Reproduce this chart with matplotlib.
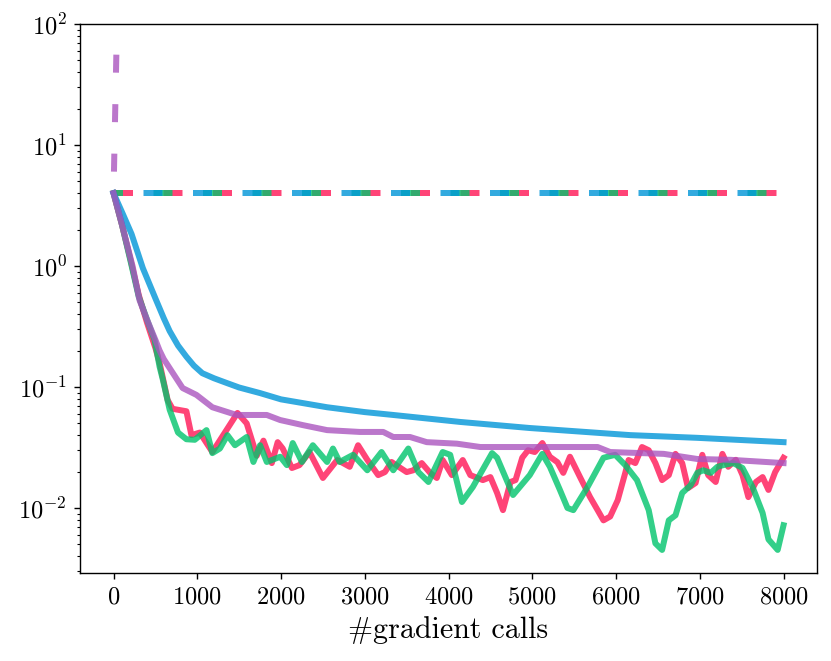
import numpy as np
import matplotlib
matplotlib.use("Agg")
import matplotlib.pyplot as plt

plt.rcParams['font.family'] = 'cmr10'
plt.rcParams['mathtext.fontset'] = 'cm'
plt.rcParams['axes.formatter.use_mathtext'] = True
plt.rcParams['axes.unicode_minus'] = False
plt.rcParams['lines.scale_dashes'] = False

# Solid curves
blue_x = [0, 110, 215, 350, 500, 600, 670, 770, 870, 960, 1060, 1200, 1350, 1500, 1750,
          2000, 2550, 3000, 3340, 4140, 4970, 6170, 6970, 8000]
blue_y = [4.0, 2.7, 1.84, 0.96, 0.54, 0.37, 0.29, 0.22, 0.178, 0.15, 0.13, 0.118, 0.108, 0.099, 0.089,
          0.079, 0.068, 0.062, 0.0587, 0.0514, 0.0458, 0.040, 0.038, 0.035]

purple_x = [0, 100, 227, 311, 400, 500, 550, 600, 700, 825, 990, 1180, 1470, 1830, 1990, 2260,
            2550, 2940, 3220, 3340, 3540, 3740, 4100, 4380, 4970, 5780, 5930, 6570, 6970, 7370, 8000]
purple_y = [4.0, 2.2, 1.0, 0.52, 0.36, 0.245, 0.20, 0.17, 0.133, 0.098, 0.086, 0.068, 0.0587, 0.0587, 0.0533, 0.0484,
            0.044, 0.0425, 0.0425, 0.0386, 0.0386, 0.035, 0.034, 0.0319, 0.0319, 0.0319, 0.029, 0.028, 0.0254, 0.025, 0.0235]

red_x = [0, 100, 200, 300, 400, 500, 550, 646, 705, 870, 930, 1030, 1180, 1480, 1590, 1710, 1790, 1890,
         1960, 2020, 2130, 2220, 2340, 2500, 2670, 2740, 2820, 2920, 3030, 3160, 3240, 3320, 3400, 3500,
         3580, 3680, 3780, 3860, 3930, 4040, 4170, 4260, 4410, 4500, 4580, 4650, 4740, 4800, 4880, 4950,
         5030, 5120, 5210, 5300, 5370, 5450, 5570, 5690, 5780, 5850, 5930, 6020, 6110, 6150, 6230, 6310,
         6390, 6470, 6550, 6630, 6710, 6790, 6860, 6950, 7030, 7100, 7190, 7270, 7340, 7430, 7510, 7580,
         7670, 7750, 7820, 7900, 8000]
red_y = [4.0, 2.2, 1.15, 0.58, 0.34, 0.21, 0.158, 0.078, 0.066, 0.063, 0.040, 0.042, 0.029, 0.061, 0.050, 0.027, 0.036, 0.0235,
         0.035, 0.031, 0.0214, 0.0226, 0.029, 0.0177, 0.0249, 0.0235, 0.0219, 0.033, 0.025, 0.0187, 0.0198, 0.024, 0.022, 0.0198,
         0.0205, 0.0235, 0.0195, 0.0177, 0.0249, 0.0187, 0.0249, 0.0187, 0.017, 0.018, 0.0133, 0.0096, 0.0164, 0.017, 0.026, 0.030,
         0.029, 0.0344, 0.0265, 0.0239, 0.0195, 0.0265, 0.018, 0.0123, 0.0096, 0.0079, 0.0085, 0.0116, 0.0195, 0.0249, 0.0235, 0.0319,
         0.030, 0.0235, 0.017, 0.0187, 0.028, 0.0235, 0.0146, 0.0161, 0.0275, 0.0187, 0.0164, 0.028, 0.0219, 0.025, 0.0187, 0.0123,
         0.0164, 0.018, 0.0141, 0.0198, 0.026]

green_x = [0, 100, 200, 300, 400, 490, 550, 590, 670, 770, 870, 970, 1110, 1180, 1270, 1360, 1450, 1590,
           1670, 1750, 1830, 1990, 2070, 2140, 2250, 2380, 2550, 2620, 2700, 2860, 3030, 3200, 3340, 3520,
           3640, 3760, 3930, 4020, 4160, 4290, 4520, 4580, 4770, 4970, 5120, 5210, 5330, 5420, 5490, 5660,
           5850, 5990, 6110, 6250, 6390, 6470, 6550, 6630, 6710, 6790, 6890, 6970, 7040, 7130, 7210, 7280,
           7400, 7510, 7630, 7750, 7820, 7930, 8000]
green_y = [4.0, 2.2, 1.12, 0.56, 0.36, 0.245, 0.147, 0.114, 0.065, 0.042, 0.037, 0.0366, 0.044, 0.0284, 0.031, 0.040, 0.033, 0.0386,
           0.024, 0.033, 0.024, 0.0265, 0.0226, 0.0344, 0.024, 0.033, 0.024, 0.031, 0.024, 0.0275, 0.0205, 0.029, 0.0205, 0.031,
           0.0198, 0.0164, 0.029, 0.0275, 0.0112, 0.0149, 0.0284, 0.026, 0.0128, 0.0187, 0.028, 0.0219, 0.0141, 0.010, 0.0096, 0.0149,
           0.026, 0.0275, 0.0226, 0.017, 0.0096, 0.0051, 0.0045, 0.0079, 0.0087, 0.0133, 0.0154, 0.0195, 0.0205, 0.0195, 0.0219, 0.0226,
           0.0235, 0.0214, 0.0149, 0.0091, 0.0055, 0.0045, 0.0072]

# Dashed reference curves
base_x = [0, 8000]
base_y = [4.0, 4.0]
spike_x = [0, 100]
spike_y = [4.0, 1e4]

c_blue = '#0095d8'
c_purple = '#aa55bf'
c_red = '#ff1555'
c_green = '#00c46c'

px = 0.72  # points per pixel at dpi 100
lw = 6 * px
on, off = 19 * px, 30.5 * px

fig = plt.figure(figsize=(8.31, 6.61), dpi=100)
ax = fig.add_axes([0.0963, 0.1331, 0.8869, 0.8306])

ax.plot(base_x, base_y, color=c_red, lw=lw, alpha=0.8, dashes=(on, off))
ax.plot(base_x, base_y, color=c_green, lw=lw, alpha=0.8, linestyle=(10 * px, (on, off)))
ax.plot(base_x, base_y, color=c_blue, lw=lw, alpha=0.8, linestyle=(20 * px, (on, off)))
ax.plot(spike_x, spike_y, color=c_purple, lw=lw, alpha=0.8, linestyle=(28 * px, (on - 1 * px, off + 1 * px)))

ax.plot(red_x, red_y, color=c_red, lw=lw, alpha=0.8)
ax.plot(green_x, green_y, color=c_green, lw=lw, alpha=0.8)
ax.plot(blue_x, blue_y, color=c_blue, lw=lw, alpha=0.8)
ax.plot(purple_x, purple_y, color=c_purple, lw=lw, alpha=0.8)

ax.set_yscale('log')
ax.set_xlim(-400, 8400)
ax.set_ylim(2.9e-3, 100)
ax.set_xticks(np.arange(0, 8001, 1000))
ax.tick_params(which='major', length=6 * px, width=1.4 * px, labelsize=17.6, pad=5)
ax.tick_params(which='minor', length=3.5 * px, width=1.1 * px)
for s in ax.spines.values():
    s.set_linewidth(1.4 * px)
ax.set_xlabel('#gradient calls', fontsize=21.6, labelpad=6)

fig.savefig('out.png', dpi=100)
